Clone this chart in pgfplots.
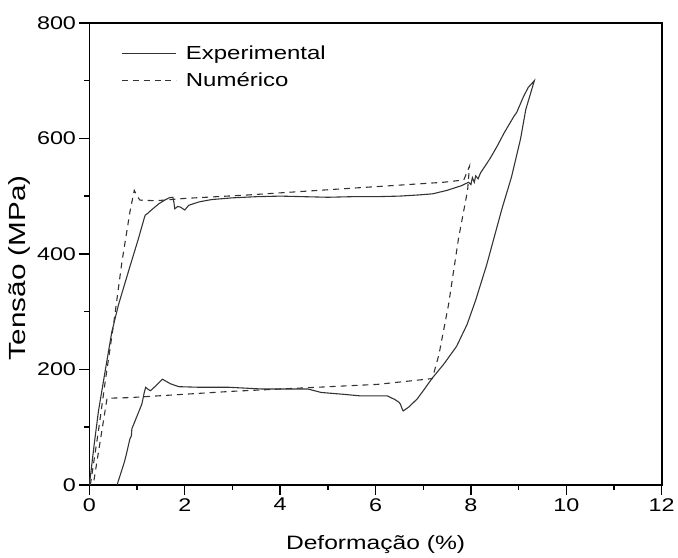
\documentclass[border=0pt]{standalone}
\usepackage{pgfplots}
\pgfplotsset{compat=1.18}
\usepackage{fontspec}
\setmainfont[FakeStretch=1.27]{Liberation Sans}
\definecolor{curve}{HTML}{333333}
\begin{document}
\begin{tikzpicture}
\begin{axis}[
  width=576pt, height=465pt, scale only axis,
  xmin=0, xmax=12, ymin=0, ymax=800,
  xtick={0,2,...,12}, ytick={0,200,...,800},
  minor xtick={1,3,...,11}, minor ytick={100,300,...,700},
  xtick pos=bottom, ytick pos=left,
  tick align=outside,
  major tick length=10pt, minor tick length=5pt,
  every tick/.style={black, line width=1.4pt},
  axis line style={line width=1.6pt},
  /pgf/number format/assume math mode=true,
  ticklabel style={font=\fontsize{18.5}{20}\selectfont},
  xlabel={Deformação (\%)}, ylabel={Tensão (MPa)},
  every axis x label/.style={at={(axis description cs:0.5,-0.129)}, anchor=center, font=\fontsize{19.5}{22}\selectfont},
  every axis y label/.style={at={(axis description cs:-0.1215,0.47)}, rotate=90, anchor=center, font=\fontsize{23.5}{25}\selectfont},
  legend style={draw=none, fill=none, at={(axis description cs:0.05,0.96)}, anchor=north west,
    font=\fontsize{19}{21}\selectfont, row sep=8pt},
  legend cell align=left,
  legend image code/.code={\draw[#1] (0pt,0pt) -- (55pt,0pt); \path (62pt,0pt);},
  clip=false,
]
\addplot[curve, line width=1.1pt] coordinates {
(0,0) (0.05,35) (0.1,70) (0.19,128) (0.33,197) (0.47,265) (0.61,312) (0.82,370) (1.03,427)
(1.15,462) (1.17,467) (1.22,470) (1.3,476) (1.46,487) (1.6,494) (1.67,497) (1.75,498)
(1.77,490) (1.79,478) (1.85,482) (1.91,481) (1.96,478) (2.0,476) (2.08,484) (2.3,490)
(2.56,494) (3.0,497) (3.5,499) (4.0,500) (4.5,499) (5.0,498) (5.5,499) (6.0,499) (6.5,500)
(6.9,502) (7.2,504) (7.5,510) (7.8,518) (7.95,524) (8.0,520) (8.03,532) (8.07,524) (8.1,535)
(8.15,530) (8.2,540) (8.4,565) (8.54,585) (8.7,610) (8.9,638) (8.96,645) (9.1,672) (9.2,688)
(9.33,700)
(9.15,650) (9.04,599) (8.85,533) (8.65,478) (8.33,381) (8.1,320) (7.92,278) (7.7,240)
(7.43,209) (7.19,185) (7.0,163) (6.875,149) (6.7,135) (6.58,128) (6.56,131) (6.52,140)
(6.49,143) (6.4,148) (6.32,151) (6.25,154) (6.04,154) (5.69,154) (5.3,157) (4.86,160)
(4.58,166) (4.0,166) (3.61,166) (2.92,169) (2.3,169) (1.875,170) (1.7,175) (1.53,183)
(1.4,172) (1.28,163) (1.22,166) (1.18,169) (1.15,160) (1.1,140) (0.89,97) (0.88,85)
(0.85,80) (0.78,55) (0.735,40) (0.65,18) (0.58,0)
};
\addlegendentry{Experimental}
\addplot[curve, line width=1.1pt, dash pattern=on 6pt off 5pt] coordinates {
(0.02,0) (0.19,94) (0.33,178) (0.51,280) (0.68,385) (0.85,473) (0.94,510) (1.0,500)
(1.06,493) (1.4,492) (2,496) (3.33,502) (5,511) (7.43,524) (7.85,528) (7.97,552)
(7.93,510) (7.74,427) (7.53,312) (7.33,226) (7.19,184) (6.04,174) (3,162) (0.83,151)
(0.37,150) (0.08,0)
};
\addlegendentry{Numérico}
\path (rel axis cs:-0.15625,-0.157) rectangle (rel axis cs:1.0208,1.0495);
\end{axis}
\end{tikzpicture}
\end{document}
